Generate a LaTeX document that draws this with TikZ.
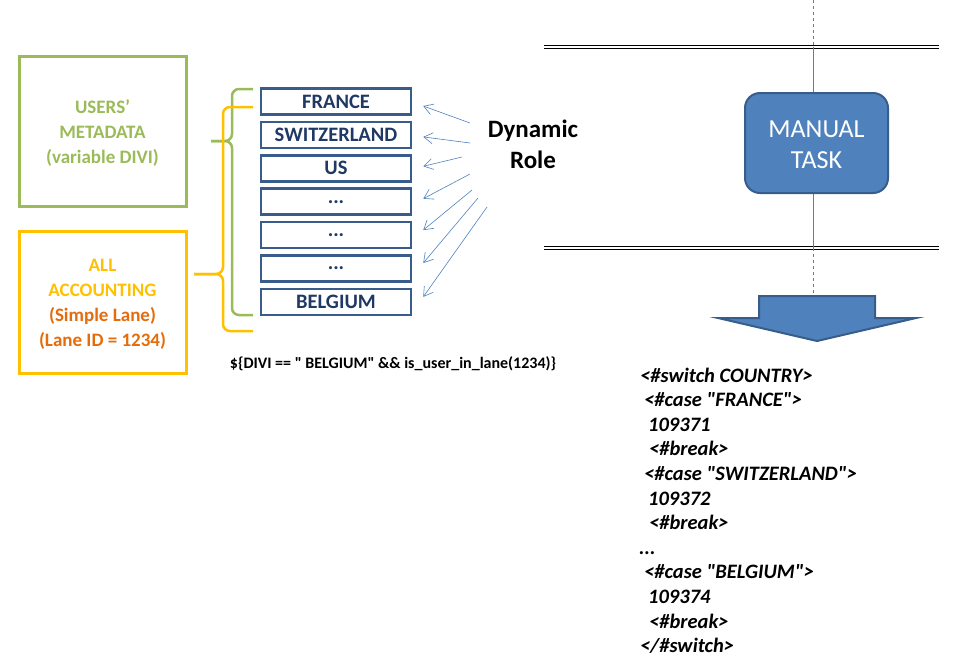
\documentclass[tikz,border=0pt]{standalone}
\usepackage{fontspec}
\setmainfont{Carlito}[Ligatures=TeXOff]
\usetikzlibrary{arrows.meta}
\definecolor{metagreen}{HTML}{9BBB59}
\definecolor{lanegold}{HTML}{FFC000}
\definecolor{laneorange}{HTML}{E46C0A}
\definecolor{boxblue}{HTML}{385D8A}
\definecolor{navytext}{HTML}{1F3864}
\definecolor{taskblue}{HTML}{4F81BD}
\newcommand\threedots{...}
\tikzset{
  country/.style={draw=boxblue, line width=2.5pt, minimum width=150pt, minimum height=26pt,
    inner sep=0pt, text=navytext, font=\fontsize{20.5}{22}\selectfont\bfseries},
  leftbox/.style={line width=3pt, minimum width=167pt},
  lefttext/.style={align=center, font=\fontsize{19}{25}\selectfont\bfseries},
  roleline/.style={draw=taskblue, line width=0.6pt, -{Straight Barb[length=9pt,width=11pt]}},
  brace/.style={line width=2.5pt, rounded corners=7pt},
  lane/.style={draw=taskblue, line width=0.8pt},
  poolline/.style={double, line width=0.8pt, double distance=1.6pt},
  codeline/.style={anchor=base west, inner sep=0pt, font=\fontsize{20.5}{22}\selectfont\bfseries\itshape}
}
\begin{document}
\begin{tikzpicture}[x=1pt, y=-1pt]
    \useasboundingbox (0,0) rectangle (960,657);
    % left side: metadata and lane
    \node[leftbox, draw=metagreen, minimum height=150pt] (meta) at (102.5,131) {};
    \node[lefttext, text=metagreen] (metatext) at ([yshift=-2.5pt]meta.center)
      {USERS’\\METADATA\\(variable DIVI)};
    \node[leftbox, draw=lanegold, minimum height=142pt] (accounting) at (102.5,302) {};
    \node[lefttext] (accountingtext) at ([yshift=-2.5pt]accounting.center)
      {\textcolor{lanegold}{ALL}\\\textcolor{lanegold}{ACCOUNTING}\\
       \textcolor{laneorange}{(Simple Lane)}\\\textcolor{laneorange}{(Lane ID = 1234)}};
    % countries
    \foreach \name/\txt [count=\i] in {fr/FRANCE, ch/SWITZERLAND, us/US, d1/\threedots, d2/\threedots, d3/\threedots, be/BELGIUM}
        \node[country] (\name) at (336,{101.5+33.4*(\i-1)}) {\txt};
    % braces
    \draw[brace, metagreen] (253,89) -- (232,89) -- (232,141) -- (211,141);
    \draw[brace, metagreen] (253,315) -- (232,315) -- (232,141) -- (211,141);
    \draw[brace, lanegold] (253,107) -- (223,107) -- (223,274) -- (194,274);
    \draw[brace, lanegold] (253,331) -- (223,331) -- (223,274) -- (194,274);
    % dynamic role
    \node[align=center, font=\fontsize{25}{31}\selectfont\bfseries] (role) at (533,144) {Dynamic\\Role};
    \foreach \sx/\sy/\name/\dy in {470/123/fr/4.5, 470/143/ch/2, 462/157/us/-2, 470/174/d1/-3,
        472/190/d2/-5, 478/198/d3/-5.5, 487/207/be/-5}
        \draw[roleline] (\sx,\sy) -- ([xshift=11pt, yshift=-\dy pt]\name.east);
    \node[font=\fontsize{16}{18}\selectfont\bfseries] (cond) at (393,363.5)
      {\$\{DIVI == " BELGIUM" \&\& is\_user\_in\_lane(1234)\}};
    % pool and task
    \draw[poolline] (544,47) -- (939,47);
    \draw[poolline] (544,248) -- (939,248);
    \node[draw=boxblue, fill=taskblue, line width=2pt, rounded corners=15pt, minimum width=143pt,
      minimum height=100pt] (task) at (816.5,143) {};
    \node[align=center, text=white, font=\fontsize{26}{31}\selectfont] (tasktext)
      at ([yshift=-2pt]task.center) {MANUAL\\TASK};
    \coordinate (top) at (813,0);
    \coordinate (poolin) at (813,47);
    \coordinate (poolout) at (813,248);
    \coordinate (arrowtop) at (813,296);
    \draw[lane, dashed] (top) -- (poolin);
    \draw[lane] (poolin) -- (task.north -| poolin);
    \draw[lane] (task.south -| poolin) -- (poolout);
    \draw[lane, dashed] (poolout) -- (arrowtop);
    \draw[draw=boxblue, fill=taskblue, line width=2pt, line join=miter]
      (759,296) -- (875,296) -- (875,318) -- (916,318) -- (817,341) -- (718,318) -- (759,318) -- cycle;
    % template code
    \foreach \dx/\txt [count=\i] in {0/{<\#switch COUNTRY>}, 4/{<\#case "FRANCE">}, 8/{109371},
        9/{<\#break>}, 4/{<\#case "SWITZERLAND">}, 8/{109372}, 9/{<\#break>}, -1/\threedots,
        4/{<\#case "BELGIUM">}, 8/{109374}, 9/{<\#break>}, 0/{</\#switch>}}
        \node[codeline] (code\i) at ({640+\dx},{382+24.6*(\i-1)}) {\txt};
\end{tikzpicture}
\end{document}
